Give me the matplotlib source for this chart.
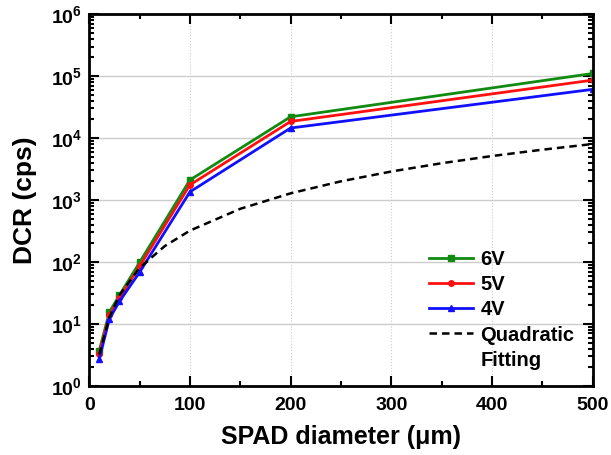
import matplotlib.pyplot as plt
from matplotlib.ticker import LogLocator, MultipleLocator, FixedLocator, NullFormatter

plt.rcParams['font.family'] = ['Liberation Sans', 'DejaVu Sans']
plt.rcParams['font.weight'] = 'bold'

# SPAD diameter (um)
diameter = [10, 20, 30, 50, 100, 200, 500]
dcr_6v = [3.7, 15.5, 29, 98, 2100, 22000, 110000]
dcr_5v = [3.3, 14, 26, 85, 1750, 18500, 86000]
dcr_4v = [2.7, 12, 23, 68, 1350, 14500, 61000]

# quadratic fitting
fit_x = [10, 20, 30, 50, 75, 100, 150, 200, 250, 300, 350, 400, 450, 500]
fit_y = [3.2, 12.8, 29, 80, 180, 320, 720, 1280, 2000, 2880, 3920, 5120, 6480, 8000]

y_decades = [1, 1e1, 1e2, 1e3, 1e4, 1e5, 1e6]

fig, ax = plt.subplots(figsize=(6.11, 4.55), dpi=100)
fig.subplots_adjust(left=0.146, right=0.970, top=0.969, bottom=0.152)

ax.plot(diameter, dcr_6v, color='#108a10', marker='s', ms=4, lw=2, label='6V')
ax.plot(diameter, dcr_5v, color='#ff1010', marker='o', ms=4, lw=2, label='5V')
ax.plot(diameter, dcr_4v, color='#1010ff', marker='^', ms=5, lw=2, label='4V')
ax.plot(fit_x, fit_y, color='black', ls=(0, (3, 2)), lw=1.8, label='Quadratic')
# second line of the fit label, no handle
ax.plot([], [], color='none', label='Fitting')

ax.set_yscale('log')
ax.set_xlim(0, 500)
ax.set_ylim(1, 1e6)
ax.xaxis.set_major_locator(MultipleLocator(100))
ax.xaxis.set_minor_locator(MultipleLocator(50))
ax.yaxis.set_major_locator(FixedLocator(y_decades))
ax.yaxis.set_minor_locator(LogLocator(base=10, subs=range(2, 10), numticks=10))
ax.yaxis.set_minor_formatter(NullFormatter())

ax.grid(True, which='major', axis='y', color='#cccccc', lw=1)
ax.grid(True, which='major', axis='x', color='#cccccc', lw=0.8, ls=':')
ax.set_axisbelow(True)

ax.tick_params(which='both', direction='in', top=True, right=True, labelsize=14, width=1.5)
ax.tick_params(which='major', length=7)
ax.tick_params(which='minor', length=3.5)
ax.tick_params(axis='x', pad=8)
ax.tick_params(axis='y', pad=5)
for s in ax.spines.values():
    s.set_linewidth(2)

ax.set_xlabel('SPAD diameter (μm)', fontsize=18, fontweight='bold', labelpad=8)
ax.set_ylabel('DCR (cps)', fontsize=19, fontweight='bold', labelpad=10)

ax.legend(loc='lower right', frameon=False, fontsize=14.5, handlelength=2.2,
          handletextpad=0.35, labelspacing=0.3, bbox_to_anchor=(1.0, -0.005))

fig.savefig('out.png', dpi=100)
